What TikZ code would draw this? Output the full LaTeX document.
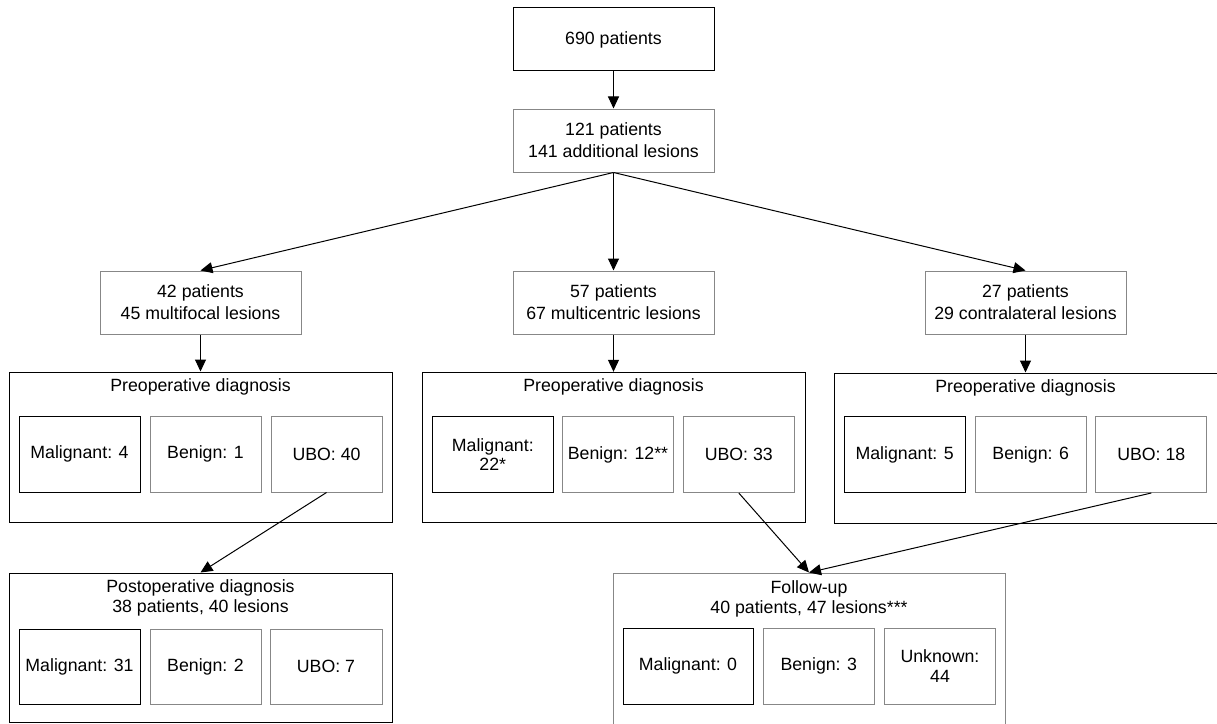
\documentclass[tikz,border=0pt]{standalone}
\usepackage{fontspec}
\setmainfont{Liberation Sans}
\usetikzlibrary{arrows.meta}
\definecolor{bordergray}{RGB}{135,135,135}
\tikzset{
 base/.style={draw, line width=0.75pt, inner sep=0pt, align=center, font=\fontsize{13.3}{16.5}\selectfont},
 wh/.style 2 args={minimum width=#1*0.75pt, minimum height=#2*0.75pt},
 blk/.style={base, draw=black},
 gry/.style={base, draw=bordergray},
 tight/.style={font=\fontsize{13.3}{14.6}\selectfont},
 txt/.style={inner sep=0pt, align=center, font=\fontsize{13.3}{15}\selectfont},
 arr/.style={-{Triangle[length=9pt,width=8.25pt]}, line width=0.75pt, draw=black},
}
\begin{document}
\begin{tikzpicture}[x=0.75pt,y=-0.75pt]
\useasboundingbox (0,0) rectangle (1217,724);
% top chain
\node[blk, wh={201}{63}] (p690) at (613.5,39.5) {690 patients};
\node[gry, wh={201}{63}] (p121) at (613.5,140.5) {121 patients\\141 additional lesions};
\node[gry, wh={201}{63}] (p42) at (200.5,302.5) {42 patients\\45 multifocal lesions};
\node[gry, wh={201}{63}] (p57) at (613.5,302.5) {57 patients\\67 multicentric lesions};
\node[gry, wh={201}{63}] (p27) at (1025.5,302.5) {27 patients\\29 contralateral lesions};
% preoperative boxes
\node[blk, wh={383}{150}] (preL) at (200.5,447) {};
\node[blk, wh={383}{150}] (preM) at (613.5,447.3) {};
\node[blk, wh={383}{150}] (preR) at (1025.5,448) {};
\node[txt] (hL) at (200.5,387) {Preoperative diagnosis};
\node[txt] (hM) at (613.5,387) {Preoperative diagnosis};
\node[txt] (hR) at (1025.5,388) {Preoperative diagnosis};
% left inner
\node[blk, wh={121}{76}] (mL) at (79.5,454) {Malignant: 4};
\node[gry, wh={111}{76}] (bL) at (205.5,454) {Benign: 1};
\node[gry, wh={111}{76}] (uL) at (326.5,454) {UBO: 40};
% middle inner
\node[blk, wh={121}{76}, tight] (mM) at (492.8,454.5) {Malignant:\\22*};
\node[gry, wh={111}{76}] (bM) at (618,454.5) {Benign: 12**};
\node[gry, wh={111}{76}] (uM) at (738.8,454.5) {UBO: 33};
% right inner
\node[blk, wh={121}{76}] (mR) at (904.7,454.5) {Malignant: 5};
\node[gry, wh={111}{76}] (bR) at (1030.7,454.5) {Benign: 6};
\node[gry, wh={111}{76}] (uR) at (1151.3,454.5) {UBO: 18};
% postoperative
\node[blk, wh={383}{149}] (postL) at (200.5,647.5) {};
\node[txt] (hP) at (200.5,598.3) {Postoperative diagnosis\\38 patients, 40 lesions};
\node[blk, wh={121}{75}] (mP) at (79.5,666.5) {Malignant: 31};
\node[gry, wh={111}{75}] (bP) at (205.5,666.5) {Benign: 2};
\node[gry, wh={112}{75}] (uP) at (326,666.5) {UBO: 7};
% follow-up
\node[gry, wh={392}{172}] (fu) at (809,659) {};
\node[txt] (hF) at (809,599) {Follow-up\\40 patients, 47 lesions***};
\node[blk, wh={130}{76}] (mF) at (688,666.3) {Malignant: 0};
\node[gry, wh={111}{76}] (bF) at (818.8,666.3) {Benign: 3};
\node[gry, wh={111}{76}, tight] (uF) at (940,666.3) {Unknown:\\44};
% connectors
\draw[arr] (p690.south) -- (p121.north);
\draw[arr] (p121.south) -- (p42.north);
\draw[arr] (p121.south) -- (p57.north);
\draw[arr] (p121.south) -- (p27.north);
\draw[arr] (p42.south) -- (preL.north);
\draw[arr] (p57.south) -- (preM.north);
\draw[arr] (p27.south) -- (preR.north);
\draw[arr] (uL.south) -- (postL.north);
\draw[arr] (uM.south) -- (fu.north);
\draw[arr] (uR.south) -- (fu.north);
\end{tikzpicture}
\end{document}
